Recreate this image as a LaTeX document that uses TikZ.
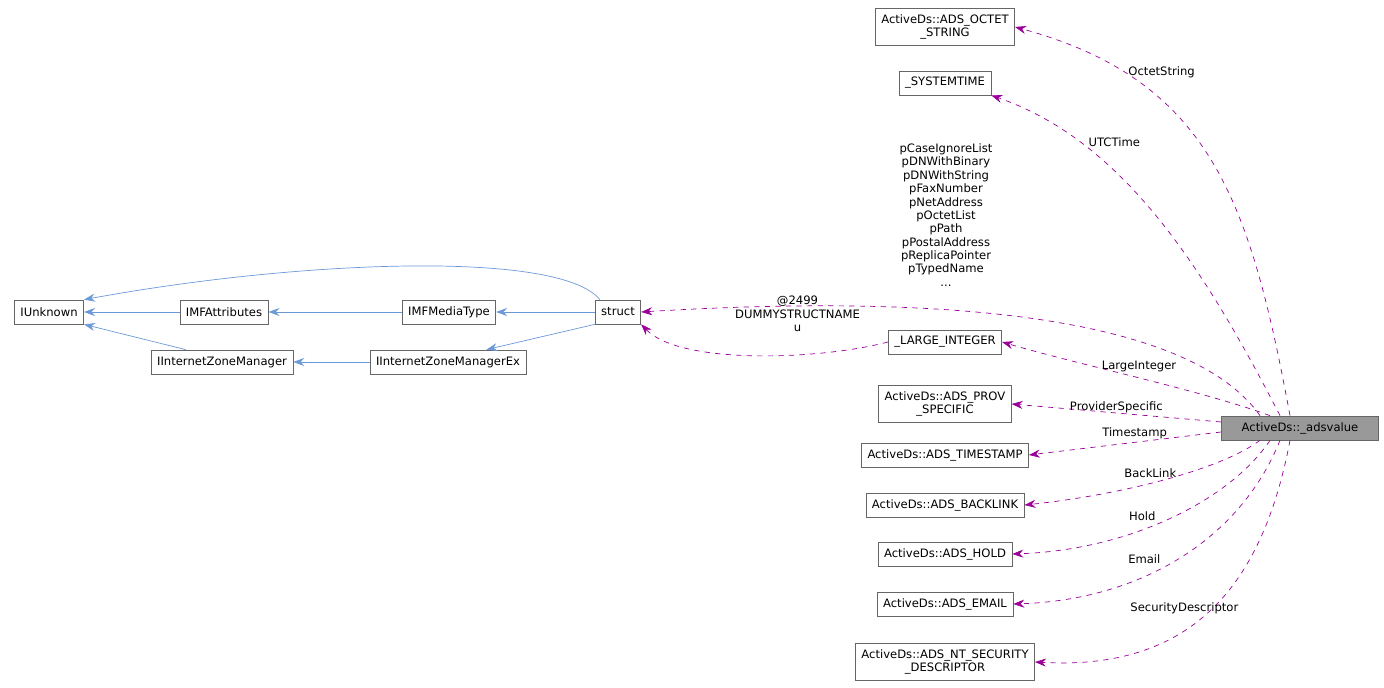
\documentclass[tikz,border=0pt]{standalone}
\usepackage{fontspec}
\setmainfont{DejaVu Sans}
\usetikzlibrary{arrows.meta}
\usetikzlibrary{calc}
\usetikzlibrary{positioning}

\begin{document}
\begin{tikzpicture}[x=0.02cm, y=-0.02cm, font=\fontsize{6.6}{7.6}\selectfont]
    \tikzstyle{cls}=[draw=black!60, fill=white, inner xsep=0.12cm, minimum height=0.48cm, align=center]
    \tikzstyle{uses}=[draw=violet!80!magenta, dashed, -{Stealth[length=0.22cm, width=0.16cm]}]
    \tikzstyle{inh}=[draw=cyan!50!blue!60, -{Stealth[length=0.22cm, width=0.16cm]}]
    \tikzstyle{lbl}=[inner sep=1pt, align=center]
    \useasboundingbox (0,0) rectangle (1384,688);
    % base classes of struct
    \node[cls] (IU) at (49,312) {IUnknown};
    \node[cls] (IMFA) at (224,312) {IMFAttributes};
    \node[cls] (IMFM) at (449,312) {IMFMediaType};
    \node[cls] (ST) at (618,312) {struct};
    \node[cls] (IZM) at (222,362) {IInternetZoneManager};
    \node[cls] (IZMX) at (448,362) {IInternetZoneManagerEx};
    % members of _adsvalue
    \node[cls] (OCT) at (945,27) {ActiveDs::ADS\_OCTET\\\_STRING};
    \node[cls] (SYS) at (945,83) {\_SYSTEMTIME};
    \node[cls] (LI) at (945,342) {\_LARGE\_INTEGER};
    \node[cls] (PROV) at (945,404) {ActiveDs::ADS\_PROV\\\_SPECIFIC};
    \node[cls] (TS) at (945,455) {ActiveDs::ADS\_TIMESTAMP};
    \node[cls] (BL) at (945,505) {ActiveDs::ADS\_BACKLINK};
    \node[cls] (HOLD) at (945,554) {ActiveDs::ADS\_HOLD};
    \node[cls] (MAIL) at (945,604) {ActiveDs::ADS\_EMAIL};
    \node[cls] (SEC) at (945,662) {ActiveDs::ADS\_NT\_SECURITY\\\_DESCRIPTOR};
    \node[cls, fill=black!40, minimum width=3.14cm] (AV) at (1300,428) {ActiveDs::\_adsvalue};
    % inheritance
    \draw[inh] (IMFA) -- (IU);
    \draw[inh] (IZM.north west) ++(35,0) -- (IU.south east);
    \draw[inh] (IMFM) -- (IMFA);
    \draw[inh] (ST) -- (IMFM);
    \draw[inh] (IZMX) -- (IZM);
    \draw[inh] (ST.south west) -- ($(IZMX.north east)+(-40,0)$);
    \draw[inh] (ST.north west) ++(5,0) .. controls (560,250) and (300,260) .. (IU.north east);
    % members
    \draw[uses] (AV.north) ++(-10,0) .. controls (1250,200) and (1210,80) .. (OCT.east) node[lbl, pos=0.78, right=2pt] {OctetString};
    \draw[uses] (AV.north) ++(-20,0) .. controls (1200,260) and (1120,140) .. (SYS.south east) node[lbl, pos=0.75, right=4pt] {UTCTime};
    \draw[uses] (AV.north) ++(-40,0) .. controls (1200,330) and (1000,290) .. (ST.east);
    \node[lbl] at (946,215) {pCaseIgnoreList\\pDNWithBinary\\pDNWithString\\pFaxNumber\\pNetAddress\\pOctetList\\pPath\\pPostalAddress\\pReplicaPointer\\pTypedName\\...};
    \draw[uses] (LI.west) .. controls (820,360) and (680,365) .. (ST.south east) node[lbl, pos=0.35, above=12pt] {@2499\\DUMMYSTRUCTNAME\\u};
    \draw[uses] (AV.north) ++(-30,0) .. controls (1200,390) and (1080,365) .. (LI.east) node[lbl, midway, above=2pt] {LargeInteger};
    \draw[uses] (AV.west) ++(0,-6) -- (PROV.east) node[lbl, midway, above=-1pt] {ProviderSpecific};
    \draw[uses] (AV.west) ++(0,4) -- (TS.east) node[lbl, pos=0.45, above=1pt] {Timestamp};
    \draw[uses] (AV.south) ++(-40,0) .. controls (1220,470) and (1120,495) .. (BL.east) node[lbl, pos=0.55, above=2pt] {BackLink};
    \draw[uses] (AV.south) ++(-30,0) .. controls (1230,500) and (1130,550) .. (HOLD.east) node[lbl, pos=0.6, above=4pt] {Hold};
    \draw[uses] (AV.south) ++(-20,0) .. controls (1240,540) and (1140,600) .. (MAIL.east) node[lbl, pos=0.62, above=6pt] {Email};
    \draw[uses] (AV.south) ++(-10,0) .. controls (1260,600) and (1180,670) .. (SEC.east) node[lbl, pos=0.58, above=8pt] {SecurityDescriptor};
\end{tikzpicture}
\end{document}
